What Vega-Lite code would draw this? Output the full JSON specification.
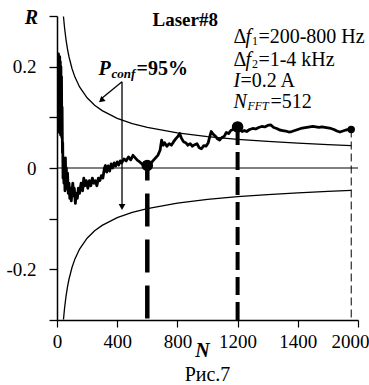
{
  "$schema": "https://vega.github.io/schema/vega-lite/v6.json",
  "width": 301,
  "height": 304,
  "autosize": {"type": "none"},
  "padding": {"left": 57, "top": 16, "right": 11, "bottom": 65},
  "config": {
    "font": "Times New Roman, Liberation Serif, serif",
    "view": {"stroke": null},
    "axis": {"grid": false}
  },
  "title": {"text": "Рис.7", "orient": "bottom", "anchor": "middle", "fontSize": 20, "fontWeight": "normal", "color": "black", "offset": 5, "font": "Times New Roman, Liberation Serif, serif"},
  "data": {"values": [{}]},
  "datasets": {
    "bounds": [
      {"N": 43, "hi": 0.2989, "lo": -0.2989},
      {"N": 50, "hi": 0.2772, "lo": -0.2772},
      {"N": 60, "hi": 0.253, "lo": -0.253},
      {"N": 70, "hi": 0.2343, "lo": -0.2343},
      {"N": 80, "hi": 0.2191, "lo": -0.2191},
      {"N": 100, "hi": 0.196, "lo": -0.196},
      {"N": 120, "hi": 0.1789, "lo": -0.1789},
      {"N": 150, "hi": 0.16, "lo": -0.16},
      {"N": 200, "hi": 0.1386, "lo": -0.1386},
      {"N": 250, "hi": 0.124, "lo": -0.124},
      {"N": 300, "hi": 0.1132, "lo": -0.1132},
      {"N": 400, "hi": 0.098, "lo": -0.098},
      {"N": 500, "hi": 0.0877, "lo": -0.0877},
      {"N": 600, "hi": 0.08, "lo": -0.08},
      {"N": 800, "hi": 0.0693, "lo": -0.0693},
      {"N": 1000, "hi": 0.062, "lo": -0.062},
      {"N": 1200, "hi": 0.0566, "lo": -0.0566},
      {"N": 1400, "hi": 0.0524, "lo": -0.0524},
      {"N": 1600, "hi": 0.049, "lo": -0.049},
      {"N": 1800, "hi": 0.0462, "lo": -0.0462},
      {"N": 1955, "hi": 0.0443, "lo": -0.0443}
    ],
    "signal": [
      {"N": 2, "R": 0.2}, {"N": 4, "R": 0.12}, {"N": 6, "R": 0.22}, {"N": 8, "R": 0.08},
      {"N": 10, "R": 0.225}, {"N": 12, "R": 0.1}, {"N": 14, "R": 0.215}, {"N": 16, "R": 0.07},
      {"N": 18, "R": 0.22}, {"N": 20, "R": 0.09}, {"N": 22, "R": 0.21}, {"N": 24, "R": 0.065},
      {"N": 26, "R": 0.2}, {"N": 28, "R": 0.08}, {"N": 30, "R": 0.18}, {"N": 32, "R": 0.06},
      {"N": 34, "R": 0.12}, {"N": 36, "R": 0.03}, {"N": 38, "R": 0.05}, {"N": 40, "R": -0.02},
      {"N": 43, "R": 0.0}, {"N": 46, "R": -0.03}, {"N": 50, "R": -0.01}, {"N": 53, "R": -0.045},
      {"N": 56, "R": 0.02}, {"N": 59, "R": -0.04}, {"N": 62, "R": 0.0}, {"N": 66, "R": -0.035},
      {"N": 70, "R": -0.01}, {"N": 75, "R": -0.05}, {"N": 80, "R": -0.03}, {"N": 85, "R": -0.06},
      {"N": 90, "R": -0.04}, {"N": 95, "R": -0.065}, {"N": 100, "R": -0.045}, {"N": 105, "R": -0.03},
      {"N": 110, "R": -0.055}, {"N": 115, "R": -0.04}, {"N": 122, "R": -0.07}, {"N": 128, "R": -0.05},
      {"N": 135, "R": -0.06}, {"N": 142, "R": -0.04}, {"N": 150, "R": -0.05}, {"N": 160, "R": -0.03},
      {"N": 170, "R": -0.045}, {"N": 178, "R": -0.02}, {"N": 186, "R": -0.035}, {"N": 195, "R": -0.025},
      {"N": 205, "R": -0.04}, {"N": 215, "R": -0.025}, {"N": 225, "R": -0.035}, {"N": 235, "R": -0.02},
      {"N": 245, "R": -0.03}, {"N": 255, "R": -0.025}, {"N": 265, "R": -0.035}, {"N": 275, "R": -0.02},
      {"N": 285, "R": -0.025}, {"N": 295, "R": -0.015}, {"N": 305, "R": -0.02}, {"N": 315, "R": 0.0},
      {"N": 322, "R": 0.005}, {"N": 330, "R": -0.008}, {"N": 340, "R": 0.004}, {"N": 350, "R": -0.006},
      {"N": 360, "R": 0.008}, {"N": 370, "R": 0.0}, {"N": 380, "R": 0.01}, {"N": 390, "R": 0.004},
      {"N": 400, "R": 0.012}, {"N": 410, "R": 0.006}, {"N": 420, "R": 0.014}, {"N": 430, "R": 0.01},
      {"N": 445, "R": 0.018}, {"N": 460, "R": 0.014}, {"N": 475, "R": 0.022}, {"N": 490, "R": 0.016},
      {"N": 505, "R": 0.025}, {"N": 520, "R": 0.02}, {"N": 535, "R": 0.015}, {"N": 550, "R": 0.012},
      {"N": 565, "R": 0.008}, {"N": 580, "R": 0.004}, {"N": 600, "R": 0.005}, {"N": 620, "R": 0.008},
      {"N": 640, "R": 0.015}, {"N": 655, "R": 0.02}, {"N": 670, "R": 0.025}, {"N": 685, "R": 0.035},
      {"N": 695, "R": 0.055}, {"N": 705, "R": 0.045}, {"N": 715, "R": 0.05}, {"N": 730, "R": 0.043},
      {"N": 745, "R": 0.048}, {"N": 760, "R": 0.045}, {"N": 775, "R": 0.052}, {"N": 790, "R": 0.058},
      {"N": 805, "R": 0.063}, {"N": 815, "R": 0.068}, {"N": 825, "R": 0.06}, {"N": 840, "R": 0.052},
      {"N": 855, "R": 0.05}, {"N": 870, "R": 0.045}, {"N": 885, "R": 0.048}, {"N": 900, "R": 0.043},
      {"N": 915, "R": 0.046}, {"N": 930, "R": 0.048}, {"N": 945, "R": 0.04}, {"N": 960, "R": 0.038},
      {"N": 975, "R": 0.044}, {"N": 990, "R": 0.043}, {"N": 1005, "R": 0.05}, {"N": 1015, "R": 0.062},
      {"N": 1025, "R": 0.072}, {"N": 1040, "R": 0.066}, {"N": 1055, "R": 0.062}, {"N": 1065, "R": 0.058},
      {"N": 1080, "R": 0.055}, {"N": 1095, "R": 0.06}, {"N": 1110, "R": 0.062}, {"N": 1125, "R": 0.07},
      {"N": 1140, "R": 0.068}, {"N": 1155, "R": 0.074}, {"N": 1170, "R": 0.076}, {"N": 1185, "R": 0.08},
      {"N": 1200, "R": 0.081}, {"N": 1215, "R": 0.076}, {"N": 1230, "R": 0.072}, {"N": 1245, "R": 0.074},
      {"N": 1260, "R": 0.072}, {"N": 1280, "R": 0.076}, {"N": 1300, "R": 0.078}, {"N": 1320, "R": 0.077},
      {"N": 1340, "R": 0.08}, {"N": 1360, "R": 0.082}, {"N": 1380, "R": 0.081}, {"N": 1400, "R": 0.084},
      {"N": 1420, "R": 0.085}, {"N": 1440, "R": 0.08}, {"N": 1460, "R": 0.078}, {"N": 1480, "R": 0.075},
      {"N": 1500, "R": 0.074}, {"N": 1520, "R": 0.073}, {"N": 1540, "R": 0.071}, {"N": 1560, "R": 0.072},
      {"N": 1580, "R": 0.074}, {"N": 1600, "R": 0.076}, {"N": 1620, "R": 0.078}, {"N": 1640, "R": 0.079},
      {"N": 1660, "R": 0.08}, {"N": 1680, "R": 0.081}, {"N": 1700, "R": 0.082}, {"N": 1720, "R": 0.081},
      {"N": 1740, "R": 0.08}, {"N": 1760, "R": 0.081}, {"N": 1780, "R": 0.08}, {"N": 1800, "R": 0.079},
      {"N": 1820, "R": 0.078}, {"N": 1840, "R": 0.076}, {"N": 1860, "R": 0.073}, {"N": 1880, "R": 0.071},
      {"N": 1900, "R": 0.073}, {"N": 1920, "R": 0.075}, {"N": 1940, "R": 0.076}, {"N": 1955, "R": 0.076}
    ],
    "markers": [
      {"N": 600, "R": 0.005},
      {"N": 1200, "R": 0.081},
      {"N": 1955, "R": 0.076}
    ],
    "arrows": [
      {"N": 432, "R": 0.17, "N2": 432, "R2": -0.078},
      {"N": 432, "R": 0.17, "N2": 292, "R2": 0.136}
    ]
  },
  "layer": [
    {
      "data": {"name": "bounds"},
      "mark": {"type": "line", "color": "black", "strokeWidth": 1.3, "clip": true},
      "encoding": {
        "x": {"field": "N", "type": "quantitative",
          "scale": {"domain": [0, 2000], "nice": false, "zero": false},
          "axis": {
            "title": "N", "titleFont": "Times New Roman, Liberation Serif, serif", "titleFontSize": 20, "titleFontWeight": "bold", "titleFontStyle": "italic",
            "titleColor": "black", "titleX": 145, "titleY": 30, "titleAlign": "center", "titleBaseline": "middle",
            "values": [0, 200, 400, 600, 800, 1000, 1200, 1400, 1600, 1800, 2000],
            "labelExpr": "datum.value == 0 ? '0' : datum.value == 400 ? '400' : datum.value == 800 ? '800' : datum.value == 1200 ? '1200' : datum.value == 1600 ? '1400' : datum.value == 2000 ? '2000' : ''",
            "labelOffset": {"condition": {"test": "datum.value == 2000", "value": -8}, "value": 0},
            "labelFlush": false, "labelOverlap": false, "labelBound": false,
            "labelFont": "Times New Roman, Liberation Serif, serif", "labelFontSize": 19, "labelColor": "black", "labelPadding": 5,
            "tickSize": 7, "tickWidth": 1.2, "tickColor": "black", "domainColor": "black", "domainWidth": 1.5, "grid": false
          }
        },
        "y": {"field": "hi", "type": "quantitative",
          "scale": {"domain": [-0.3, 0.3], "nice": false, "zero": false},
          "axis": {
            "title": "R", "titleFont": "Times New Roman, Liberation Serif, serif", "titleFontSize": 20, "titleFontWeight": "bold", "titleFontStyle": "italic",
            "titleColor": "black", "titleAngle": 0, "titleX": -26, "titleY": 1, "titleAlign": "center", "titleBaseline": "middle",
            "values": [-0.3, -0.2, -0.1, 0, 0.1, 0.2, 0.3],
            "labelExpr": "abs(datum.value - 0.2) < 1e-6 ? '0.2' : abs(datum.value) < 1e-6 ? '0' : abs(datum.value + 0.2) < 1e-6 ? '-0.2' : ''",
            "labelOverlap": false, "labelBound": false, "labelFlush": false,
            "labelFont": "Times New Roman, Liberation Serif, serif", "labelFontSize": 19, "labelColor": "black", "labelPadding": 13,
            "tickSize": 8,
            "tickWidth": 1.3, "tickColor": "black", "domainColor": "black", "domainWidth": 1.5, "grid": false
          }
        }
      }
    },
    {
      "data": {"name": "bounds"},
      "mark": {"type": "line", "color": "black", "strokeWidth": 1.3, "clip": true},
      "encoding": {
        "x": {"field": "N", "type": "quantitative"},
        "y": {"field": "lo", "type": "quantitative", "title": "R"}
      }
    },
    {
      "mark": {"type": "rule", "color": "black", "strokeWidth": 1.2},
      "encoding": {"y": {"datum": 0, "type": "quantitative"}}
    },
    {
      "data": {"name": "signal"},
      "mark": {"type": "line", "color": "black", "strokeWidth": 2.8, "strokeJoin": "round", "clip": true},
      "encoding": {
        "x": {"field": "N", "type": "quantitative"},
        "y": {"field": "R", "type": "quantitative", "title": "R"}
      }
    },
    {
      "data": {"name": "markers"},
      "transform": [{"filter": "datum.N == 600"}],
      "mark": {"type": "rule", "color": "black", "strokeWidth": 4.5, "strokeDash": [33, 13], "strokeDashOffset": 18},
      "encoding": {
        "x": {"field": "N", "type": "quantitative"},
        "y": {"field": "R", "type": "quantitative", "title": "R"},
        "y2": {"datum": -0.3}
      }
    },
    {
      "data": {"name": "markers"},
      "transform": [{"filter": "datum.N == 1200"}],
      "mark": {"type": "rule", "color": "black", "strokeWidth": 4, "strokeDash": [18, 7]},
      "encoding": {
        "x": {"field": "N", "type": "quantitative"},
        "y": {"field": "R", "type": "quantitative", "title": "R"},
        "y2": {"datum": -0.3}
      }
    },
    {
      "data": {"name": "markers"},
      "transform": [{"filter": "datum.N == 1955"}],
      "mark": {"type": "rule", "color": "black", "strokeWidth": 1, "strokeDash": [8, 4]},
      "encoding": {
        "x": {"field": "N", "type": "quantitative"},
        "y": {"field": "R", "type": "quantitative", "title": "R"},
        "y2": {"datum": -0.3}
      }
    },
    {
      "data": {"name": "markers"},
      "transform": [{"filter": "datum.N < 1500"}],
      "mark": {"type": "point", "shape": "circle", "filled": true, "color": "black", "opacity": 1, "size": 135},
      "encoding": {
        "x": {"field": "N", "type": "quantitative"},
        "y": {"field": "R", "type": "quantitative", "title": "R"}
      }
    },
    {
      "data": {"name": "markers"},
      "transform": [{"filter": "datum.N > 1500"}],
      "mark": {"type": "point", "shape": "circle", "filled": true, "color": "black", "opacity": 1, "size": 55},
      "encoding": {
        "x": {"field": "N", "type": "quantitative"},
        "y": {"field": "R", "type": "quantitative", "title": "R"}
      }
    },
    {
      "data": {"name": "arrows"},
      "mark": {"type": "rule", "color": "black", "strokeWidth": 1.3},
      "encoding": {
        "x": {"field": "N", "type": "quantitative"},
        "x2": {"field": "N2"},
        "y": {"field": "R", "type": "quantitative", "title": "R"},
        "y2": {"field": "R2"}
      }
    },
    {
      "mark": {"type": "point", "shape": "triangle-down", "filled": true, "color": "black", "opacity": 1, "size": 45},
      "encoding": {"x": {"datum": 432, "type": "quantitative"}, "y": {"datum": -0.077, "type": "quantitative"}}
    },
    {
      "mark": {"type": "point", "shape": "triangle-up", "angle": 229, "filled": true, "color": "black", "opacity": 1, "size": 45},
      "encoding": {"x": {"datum": 294, "type": "quantitative"}, "y": {"datum": 0.1335, "type": "quantitative"}}
    },
    {
      "mark": {"type": "text", "text": "Laser#8", "fontSize": 19, "fontWeight": "bold", "align": "center", "baseline": "middle", "color": "black"},
      "encoding": {"x": {"datum": 852, "type": "quantitative"}, "y": {"datum": 0.292, "type": "quantitative"}}
    },
    {
      "mark": {"type": "text", "text": "P", "fontSize": 20, "fontWeight": "bold", "fontStyle": "italic", "align": "left", "baseline": "middle", "color": "black"},
      "encoding": {"x": {"datum": 276, "type": "quantitative"}, "y": {"datum": 0.195, "type": "quantitative"}}
    },
    {
      "mark": {"type": "text", "text": "conf", "fontSize": 13, "fontWeight": "bold", "fontStyle": "italic", "align": "left", "baseline": "middle", "dx": 13, "dy": 5, "color": "black"},
      "encoding": {"x": {"datum": 276, "type": "quantitative"}, "y": {"datum": 0.195, "type": "quantitative"}}
    },
    {
      "mark": {"type": "text", "text": "=95%", "fontSize": 20, "fontWeight": "bold", "align": "left", "baseline": "middle", "dx": 38, "color": "black"},
      "encoding": {"x": {"datum": 276, "type": "quantitative"}, "y": {"datum": 0.195, "type": "quantitative"}}
    },
    {
      "mark": {"type": "text", "text": "Δ", "fontSize": 20, "align": "left", "baseline": "middle", "color": "black"},
      "encoding": {"x": {"datum": 1172, "type": "quantitative"}, "y": {"datum": 0.259, "type": "quantitative"}}
    },
    {
      "mark": {"type": "text", "text": "f", "fontSize": 20, "fontStyle": "italic", "align": "left", "baseline": "middle", "dx": 12, "color": "black"},
      "encoding": {"x": {"datum": 1172, "type": "quantitative"}, "y": {"datum": 0.259, "type": "quantitative"}}
    },
    {
      "mark": {"type": "text", "text": "1", "fontSize": 12, "align": "left", "baseline": "middle", "dx": 18.5, "dy": 4, "color": "black"},
      "encoding": {"x": {"datum": 1172, "type": "quantitative"}, "y": {"datum": 0.259, "type": "quantitative"}}
    },
    {
      "mark": {"type": "text", "text": "=200-800 Hz", "fontSize": 20, "align": "left", "baseline": "middle", "dx": 25, "color": "black"},
      "encoding": {"x": {"datum": 1172, "type": "quantitative"}, "y": {"datum": 0.259, "type": "quantitative"}}
    },
    {
      "mark": {"type": "text", "text": "Δ", "fontSize": 20, "align": "left", "baseline": "middle", "color": "black"},
      "encoding": {"x": {"datum": 1172, "type": "quantitative"}, "y": {"datum": 0.213, "type": "quantitative"}}
    },
    {
      "mark": {"type": "text", "text": "f", "fontSize": 20, "fontStyle": "italic", "align": "left", "baseline": "middle", "dx": 12, "color": "black"},
      "encoding": {"x": {"datum": 1172, "type": "quantitative"}, "y": {"datum": 0.213, "type": "quantitative"}}
    },
    {
      "mark": {"type": "text", "text": "2", "fontSize": 12, "align": "left", "baseline": "middle", "dx": 18.5, "dy": 4, "color": "black"},
      "encoding": {"x": {"datum": 1172, "type": "quantitative"}, "y": {"datum": 0.213, "type": "quantitative"}}
    },
    {
      "mark": {"type": "text", "text": "=1-4 kHz", "fontSize": 20, "align": "left", "baseline": "middle", "dx": 25, "color": "black"},
      "encoding": {"x": {"datum": 1172, "type": "quantitative"}, "y": {"datum": 0.213, "type": "quantitative"}}
    },
    {
      "mark": {"type": "text", "text": "I", "fontSize": 20, "fontStyle": "italic", "align": "left", "baseline": "middle", "color": "black"},
      "encoding": {"x": {"datum": 1172, "type": "quantitative"}, "y": {"datum": 0.172, "type": "quantitative"}}
    },
    {
      "mark": {"type": "text", "text": "=0.2 A", "fontSize": 20, "align": "left", "baseline": "middle", "dx": 7, "color": "black"},
      "encoding": {"x": {"datum": 1172, "type": "quantitative"}, "y": {"datum": 0.172, "type": "quantitative"}}
    },
    {
      "mark": {"type": "text", "text": "N", "fontSize": 20, "fontStyle": "italic", "align": "left", "baseline": "middle", "color": "black"},
      "encoding": {"x": {"datum": 1172, "type": "quantitative"}, "y": {"datum": 0.13, "type": "quantitative"}}
    },
    {
      "mark": {"type": "text", "text": "FFT", "fontSize": 12, "fontStyle": "italic", "align": "left", "baseline": "middle", "dx": 14, "dy": 4, "color": "black"},
      "encoding": {"x": {"datum": 1172, "type": "quantitative"}, "y": {"datum": 0.13, "type": "quantitative"}}
    },
    {
      "mark": {"type": "text", "text": "=512", "fontSize": 20, "align": "left", "baseline": "middle", "dx": 37, "color": "black"},
      "encoding": {"x": {"datum": 1172, "type": "quantitative"}, "y": {"datum": 0.13, "type": "quantitative"}}
    }
  ]
}
